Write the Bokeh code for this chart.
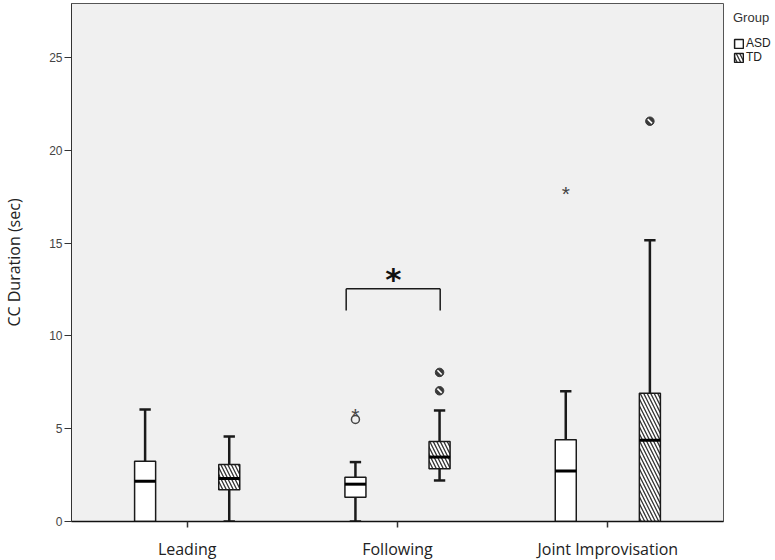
from bokeh.plotting import figure
from bokeh.models import FactorRange, Range1d, ColumnDataSource, FixedTicker, Legend, LegendItem
from bokeh.transform import dodge
from bokeh.core.properties import value
from bokeh.embed import file_html
from bokeh.resources import INLINE

# ---- data ----
cats = ["Leading", "Following", "Joint Improvisation"]
groups = ["ASD", "TD"]

asd_min = [0.0, 0.0, 0.0]
asd_q1 = [0.0, 1.31, 0.0]
asd_med = [2.17, 2.01, 2.72]
asd_q3 = [3.25, 2.39, 4.40]
asd_max = [6.03, 3.20, 7.02]

td_min = [0.0, 2.21, 0.0]
td_q1 = [1.71, 2.84, 0.0]
td_med = [2.32, 3.47, 4.37]
td_q3 = [3.07, 4.31, 6.91]
td_max = [4.58, 5.98, 15.15]

# outliers (circles) and extremes (stars)
asd_out_cat = ["Following"]
asd_out_val = [5.50]
asd_ext_cat = ["Following", "Joint Improvisation"]
asd_ext_val = [5.95, 17.87]
td_out_cat = ["Following", "Following", "Joint Improvisation"]
td_out_val = [7.04, 8.03, 21.56]

y_ticks = [0, 5, 10, 15, 20, 25]
sig_cat = ["Following"]
sig_text = ["*"]

# ---- style ----
OFF = 0.2
BOXW = 0.1
CAP = 0.027
DARK = "#1a1a1a"

p = figure(
    x_range=FactorRange(factors=cats, range_padding=0.05, range_padding_units="absolute"),
    y_range=Range1d(0, 27.9),
    frame_width=652, frame_height=518,
    output_backend="svg", toolbar_location=None,
    min_border_left=70, min_border_top=3, min_border_right=50, min_border_bottom=30,
    background_fill_color="#f0f0f0", border_fill_color="white",
)
p.outline_line_color = "#555555"
p.outline_line_width = 1
p.grid.visible = False

# axes
p.yaxis.ticker = FixedTicker(ticks=y_ticks)
p.yaxis.minor_tick_line_color = None
p.yaxis.major_tick_in = 0
p.yaxis.major_tick_out = 7
p.yaxis.major_tick_line_color = "#333333"
p.yaxis.axis_line_color = "#333333"
p.yaxis.major_label_text_font = "Liberation Sans"
p.yaxis.major_label_text_font_size = "12px"
p.yaxis.major_label_text_color = "#444444"
p.yaxis.major_label_standoff = 2
p.yaxis.axis_label = "CC Duration (sec)"
p.yaxis.axis_label_text_font = "Open Sans"
p.yaxis.axis_label_text_font_size = "16px"
p.yaxis.axis_label_text_font_style = "normal"
p.yaxis.axis_label_text_color = "#222222"
p.yaxis.axis_label_standoff = 21

p.xaxis.axis_line_color = "#111111"
p.xaxis.axis_line_width = 1.5
p.xaxis.major_tick_in = 0
p.xaxis.major_tick_out = 6
p.xaxis.major_tick_line_width = 1.5
p.xaxis.major_tick_line_color = "#333333"
p.xaxis.major_label_text_font = "Open Sans"
p.xaxis.major_label_text_font_size = "16px"
p.xaxis.major_label_text_color = "#222222"
p.xaxis.major_label_standoff = 10


def draw_group(vmin, q1, med, q3, vmax, off, hatched):
    src = ColumnDataSource(dict(cat=cats, vmin=vmin, q1=q1, med=med, q3=q3, vmax=vmax))
    xc = dodge("cat", off, range=p.x_range)
    xl = dodge("cat", off - CAP, range=p.x_range)
    xr = dodge("cat", off + CAP, range=p.x_range)
    # upper whisker + cap
    p.segment(x0=xc, y0="q3", x1=xc, y1="vmax", source=src, line_color=DARK, line_width=2.5)
    p.segment(x0=xl, y0="vmax", x1=xr, y1="vmax", source=src, line_color=DARK, line_width=2.5)
    # lower whisker + cap (only where it exists)
    idx = [i for i in range(len(cats)) if vmin[i] < q1[i]]
    lsrc = ColumnDataSource(dict(cat=[cats[i] for i in idx], vmin=[vmin[i] for i in idx], q1=[q1[i] for i in idx]))
    p.segment(x0=xc, y0="vmin", x1=xc, y1="q1", source=lsrc, line_color=DARK, line_width=2.5)
    p.segment(x0=xl, y0="vmin", x1=xr, y1="vmin", source=lsrc, line_color=DARK, line_width=2.5)
    # box
    kw = dict(fill_color="white", line_color=DARK, line_width=1.5)
    if hatched:
        kw.update(hatch_pattern="left_diagonal_line", hatch_color="#333333", hatch_scale=7, hatch_weight=1.3)
    box = p.vbar(x=xc, width=BOXW, bottom="q1", top="q3", source=src, **kw)
    # median
    xbl = dodge("cat", off - BOXW / 2, range=p.x_range)
    xbr = dodge("cat", off + BOXW / 2, range=p.x_range)
    p.segment(x0=xbl, y0="med", x1=xbr, y1="med", source=src, line_color="black", line_width=3)
    return box


asd_box = draw_group(asd_min, asd_q1, asd_med, asd_q3, asd_max, -OFF, False)
td_box = draw_group(td_min, td_q1, td_med, td_q3, td_max, OFF, True)

# outliers
asd_o = ColumnDataSource(dict(cat=asd_out_cat, v=asd_out_val))
p.scatter(x=dodge("cat", -OFF, range=p.x_range), y="v", source=asd_o, marker="circle",
          size=8, fill_color="white", fill_alpha=0, line_color="#444444", line_width=1.5)
asd_e = ColumnDataSource(dict(cat=asd_ext_cat, v=asd_ext_val, t=["*"] * len(asd_ext_cat)))
p.text(x=dodge("cat", -OFF, range=p.x_range), y="v", text="t", source=asd_e,
       text_font=value("Liberation Sans"), text_font_size="21px", text_color="#444444",
       text_align="center", text_baseline="alphabetic", y_offset=4)
td_o = ColumnDataSource(dict(cat=td_out_cat, v=td_out_val))
p.scatter(x=dodge("cat", OFF, range=p.x_range), y="v", source=td_o, marker="circle",
          size=8.5, fill_color="#3a3a3a", line_color="#3a3a3a", line_width=1)
p.scatter(x=dodge("cat", OFF, range=p.x_range), y="v", source=td_o, marker="dash",
          size=6, angle=-0.785, line_color="white", line_width=1.6)

# significance bracket
br = ColumnDataSource(dict(cat=sig_cat, top=[12.54], bot=[11.37], t=sig_text, ty=[13.3]))
bl = dodge("cat", -0.244, range=p.x_range)
brr = dodge("cat", 0.203, range=p.x_range)
p.segment(x0=bl, y0="top", x1=brr, y1="top", source=br, line_color=DARK, line_width=1.5)
p.segment(x0=bl, y0="top", x1=bl, y1="bot", source=br, line_color=DARK, line_width=1.5)
p.segment(x0=brr, y0="top", x1=brr, y1="bot", source=br, line_color=DARK, line_width=1.5)
p.text(x=dodge("cat", -0.02, range=p.x_range), y="ty", text="t", source=br,
       text_font=value("DejaVu Sans"), text_font_style="bold", text_font_size="31px",
       text_color="#111111", text_align="center", text_baseline="alphabetic", y_offset=4)

legend = Legend(items=[LegendItem(label=groups[0], renderers=[asd_box]),
                       LegendItem(label=groups[1], renderers=[td_box])],
                title="Group", location=(10, 457))
legend.title_text_font = "Liberation Sans"
legend.title_text_font_size = "13px"
legend.title_text_font_style = "normal"
legend.title_text_color = "#333333"
legend.title_standoff = 11
legend.label_text_font = "Liberation Sans"
legend.label_text_font_size = "12px"
legend.label_text_color = "#222222"
legend.label_standoff = 2
legend.label_height = 11
legend.glyph_width = 11
legend.glyph_height = 11
legend.spacing = 0
legend.padding = 0
legend.margin = 0
legend.border_line_color = None
legend.background_fill_alpha = 0
p.add_layout(legend, "right")

open("out.html", "w").write(file_html(p, INLINE))
